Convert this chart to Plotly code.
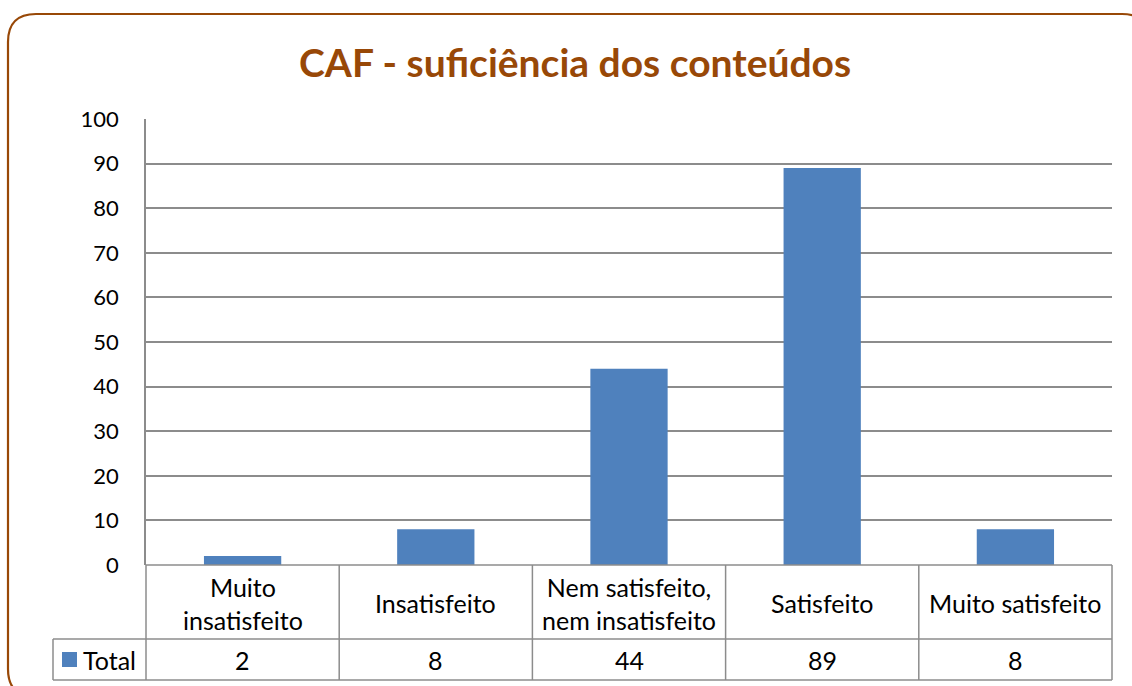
import plotly.graph_objects as go

categories = ["Muito<br>insatisfeito", "Insatisfeito", "Nem satisfeito,<br>nem insatisfeito", "Satisfeito", "Muito satisfeito"]
values = [2, 8, 44, 89, 8]
series_name = "Total"
tick_vals = [0, 10, 20, 30, 40, 50, 60, 70, 80, 90, 100]
title_text = "CAF - suficiência dos conteúdos"

W, H = 1132, 686
FONT = "Lato, 'Open Sans', sans-serif"
BAR = "#4F81BD"
GRID = "#8C8C8C"
BROWN = "#984807"

# pixel layout
x0, x1 = 146, 1112
y_top, y_zero = 119, 565
y_catrow_bot = 639
y_tab_bot = 680
x_leg = 53

def px(x):
    return x / W

def py(y):
    return 1 - y / H

n = len(categories)
idx = list(range(n))

fig = go.Figure()
fig.add_trace(go.Bar(x=idx, y=values, marker=dict(color=BAR, line=dict(width=0)),
                     name=series_name, showlegend=False, width=0.4))

shapes = []
r = 28
L, T, R, B = 8, 14, 1150, 697
path = (f"M {px(L)},{py(T + r)} Q {px(L)},{py(T)} {px(L + r)},{py(T)} "
        f"L {px(R - r)},{py(T)} Q {px(R)},{py(T)} {px(R)},{py(T + r)} "
        f"L {px(R)},{py(B - r)} Q {px(R)},{py(B)} {px(R - r)},{py(B)} "
        f"L {px(L + r)},{py(B)} Q {px(L)},{py(B)} {px(L)},{py(B - r)} Z")
shapes.append(dict(type="path", xref="paper", yref="paper", path=path,
                   line=dict(color=BROWN, width=2.2), fillcolor="rgba(0,0,0,0)"))

gl = dict(color=GRID, width=1.5)
shapes.append(dict(type="line", xref="paper", yref="paper", x0=px(x0), x1=px(x1), y0=py(y_zero), y1=py(y_zero), line=gl))
shapes.append(dict(type="line", xref="paper", yref="paper", x0=px(x_leg), x1=px(x1), y0=py(y_catrow_bot), y1=py(y_catrow_bot), line=gl))
shapes.append(dict(type="line", xref="paper", yref="paper", x0=px(x_leg), x1=px(x1), y0=py(y_tab_bot), y1=py(y_tab_bot), line=gl))
shapes.append(dict(type="line", xref="paper", yref="paper", x0=px(x_leg), x1=px(x_leg), y0=py(y_catrow_bot), y1=py(y_tab_bot), line=gl))
cw = (x1 - x0) / n
for i in range(n + 1):
    xx = x0 + i * cw
    shapes.append(dict(type="line", xref="paper", yref="paper", x0=px(xx), x1=px(xx),
                       y0=py(y_zero), y1=py(y_tab_bot), line=gl))
shapes.append(dict(type="rect", xref="paper", yref="paper", x0=px(62), x1=px(77),
                   y0=py(652), y1=py(667), fillcolor=BAR, line=dict(width=0)))

TXT = 25
annotations = []
for i, (c, v) in enumerate(zip(categories, values)):
    cx = x0 + (i + 0.5) * cw
    annotations.append(dict(x=px(cx), y=py((y_zero + y_catrow_bot) / 2 + 1), xref="paper", yref="paper",
                            text=c, showarrow=False, font=dict(family=FONT, size=TXT, color="#000000"),
                            xanchor="center", yanchor="middle"))
    annotations.append(dict(x=px(cx), y=py((y_catrow_bot + y_tab_bot) / 2), xref="paper", yref="paper",
                            text=str(v), showarrow=False, font=dict(family=FONT, size=TXT, color="#000000"),
                            xanchor="center", yanchor="middle"))
annotations.append(dict(x=px(81), y=py((y_catrow_bot + y_tab_bot) / 2), xref="paper", yref="paper",
                        text=series_name, showarrow=False, font=dict(family=FONT, size=TXT, color="#000000"),
                        xanchor="left", yanchor="middle"))
annotations.append(dict(x=px(575), y=py(62), xref="paper", yref="paper", text=f"<b>{title_text}</b>",
                        showarrow=False, font=dict(family=FONT, size=39, color=BROWN),
                        xanchor="center", yanchor="middle"))

fig.update_layout(
    width=W, height=H,
    margin=dict(l=0, r=0, t=0, b=0, autoexpand=False),
    paper_bgcolor="white", plot_bgcolor="white",
    shapes=shapes, annotations=annotations,
    xaxis=dict(domain=[px(x0), px(x1)], range=[-0.5, n - 0.5], showticklabels=False,
               showgrid=False, zeroline=False, showline=False, fixedrange=True, automargin=False),
    yaxis=dict(domain=[py(y_zero), py(y_top)], range=[0, 100], tickvals=tick_vals,
               showgrid=True, gridcolor=GRID, gridwidth=1.5, zeroline=False,
               showline=True, linecolor=GRID, linewidth=1.5,
               ticks="", ticklabelstandoff=21, automargin=False,
               tickfont=dict(family=FONT, size=22, color="#000000"), fixedrange=True),
    showlegend=False,
)

fig.write_html("out.html", config={"displayModeBar": False},
               post_script="document.body.style.margin='0';document.body.style.overflow='hidden';")
